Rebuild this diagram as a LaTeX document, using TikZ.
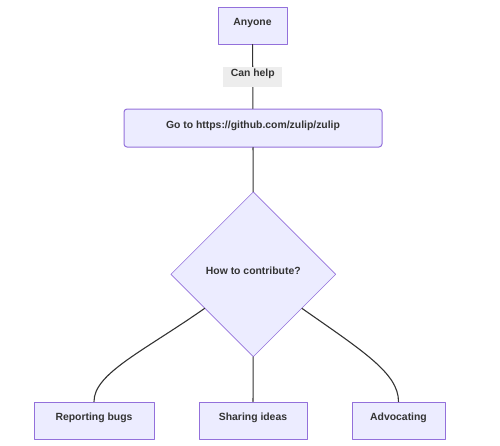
\documentclass[tikz,border=0pt]{standalone}
\usepackage{fontspec}
\setmainfont{Liberation Sans}
\usetikzlibrary{shapes.geometric}
\definecolor{nodefill}{HTML}{ECECFF}
\definecolor{nodeline}{HTML}{9370DB}
\definecolor{ink}{HTML}{333333}
\definecolor{lblfill}{HTML}{EDEDED}
\begin{document}
\begin{tikzpicture}[x=1pt, y=1pt, font=\fontsize{10.4}{12}\selectfont\bfseries,
	text=ink, line join=round, line cap=round,
	every node/.append style={text height=7.5pt, text depth=7.5pt},
	box/.style={draw=nodeline, fill=nodefill, line width=1pt, minimum height=37},
	decision/.style={diamond, draw=nodeline, fill=nodefill, line width=0.6pt,
		minimum width=165, minimum height=165, inner sep=0pt},
	lbl/.style={fill=lblfill, minimum width=59, minimum height=20, inner sep=0pt},
	link/.style={draw=ink, line width=1.1pt}]
	\useasboundingbox (0,0) rectangle (500,-445);
	\node[box, minimum width=69] (anyone) at (252.5,-25.5) {Anyone};
	\node[box, minimum width=258, minimum height=38, rounded corners=3pt]
	(github) at (253,-128) {Go to https://github.com/zulip/zulip};
	\node[decision] (ask) at (253.3,-274.3) {How to contribute?};
	\foreach \n/\x/\w/\t in
	{bugs/94/120/Reporting bugs, ideas/253/108/Sharing ideas, advocacy/398.5/93/Advocating}
	\node[box, minimum width=\w] (\n) at (\x,-420.5) {\t};
	\draw[link] (anyone) -- node[lbl] {Can help} (github);
	\draw[link] (github) -- (ask) (ask) -- (ideas);
	\draw[link] (ask) to[out=-145, in=90, out distance=75, in distance=28] (bugs);
	\draw[link] (ask) to[out=-35, in=90, out distance=75, in distance=28] (advocacy);
\end{tikzpicture}
\end{document}
